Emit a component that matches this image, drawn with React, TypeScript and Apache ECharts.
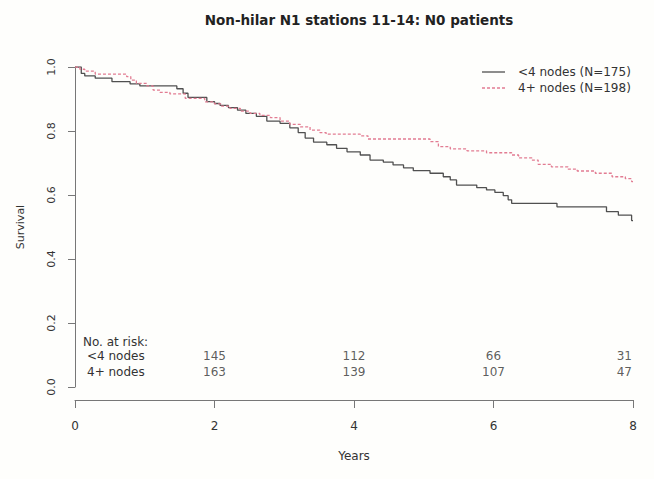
import React, { useEffect, useRef } from "react";
import * as echarts from "echarts";

// Kaplan-Meier step curves (years, survival after the drop)
const lt4Times = [0, 0.09, 0.14, 0.29, 0.53, 0.79, 0.93, 1.46, 1.55, 1.62, 1.89, 2.0, 2.08, 2.2, 2.33, 2.45, 2.6, 2.75, 2.94, 3.08, 3.2, 3.3, 3.42, 3.61, 3.75, 3.9, 4.09, 4.23, 4.42, 4.56, 4.71, 4.85, 5.09, 5.28, 5.38, 5.47, 5.76, 5.9, 6.02, 6.14, 6.21, 6.26, 6.91, 7.62, 7.79, 7.98, 8.0];
const lt4Surv = [1.0, 0.98, 0.972, 0.965, 0.954, 0.947, 0.941, 0.932, 0.918, 0.905, 0.892, 0.886, 0.88, 0.873, 0.865, 0.855, 0.846, 0.831, 0.824, 0.81, 0.795, 0.778, 0.765, 0.757, 0.746, 0.735, 0.725, 0.709, 0.703, 0.694, 0.685, 0.676, 0.668, 0.657, 0.647, 0.631, 0.623, 0.616, 0.608, 0.598, 0.585, 0.574, 0.563, 0.548, 0.537, 0.52, 0.52];

const ge4Times = [0, 0.07, 0.14, 0.29, 0.74, 0.8, 0.88, 1.03, 1.12, 1.22, 1.36, 1.58, 1.86, 2.0, 2.1, 2.22, 2.37, 2.51, 2.65, 2.8, 2.94, 3.08, 3.23, 3.37, 3.51, 3.6, 4.09, 4.2, 5.09, 5.21, 5.38, 5.62, 5.9, 6.26, 6.36, 6.55, 6.64, 6.83, 7.07, 7.2, 7.46, 7.7, 7.89, 7.98, 8.0];
const ge4Surv = [1.0, 0.993, 0.987, 0.978, 0.97, 0.959, 0.949, 0.941, 0.928, 0.921, 0.916, 0.902, 0.891, 0.885, 0.878, 0.871, 0.862, 0.855, 0.849, 0.842, 0.831, 0.821, 0.813, 0.803, 0.795, 0.79, 0.785, 0.775, 0.767, 0.751, 0.744, 0.738, 0.732, 0.725, 0.716, 0.709, 0.696, 0.688, 0.681, 0.675, 0.668, 0.657, 0.651, 0.642, 0.642];

const seriesNames = ["<4 nodes (N=175)", "4+ nodes (N=198)"];

// Numbers at risk
const riskTimes = [2, 4, 6, 8];
const riskLt4 = [145, 112, 66, 31];
const riskGe4 = [163, 139, 107, 47];
const riskRowLabels = ["No. at risk:", "<4 nodes", "4+ nodes"];
const riskRowY = [0.141, 0.097, 0.047];

const FONT = "'DejaVu Sans', 'Liberation Sans', Arial, sans-serif";
const TEXT = "#333333";
const AXIS = "#777777";
const SOLID = "#505050";
const DASHED = "#e27c92";

export default function App() {
  const ref = useRef<HTMLDivElement>(null);

  useEffect(() => {
    if (!ref.current) return;
    const chart = echarts.init(ref.current, null, { renderer: "svg" });

    const riskData = (vals: number[], y: number) =>
      riskTimes.map((t, i) => {
        const item: any = { value: [t, y, vals[i]] };
        if (i === riskTimes.length - 1) {
          item.label = { align: "right", offset: [-1, 0] };
        }
        return item;
      });

    const riskLabel = {
      show: true,
      position: "inside",
      formatter: (p: any) => String(p.value[2]),
      fontFamily: FONT,
      fontSize: 12,
      color: TEXT,
    };

    const option: any = {
      animation: false,
      backgroundColor: "#fefefc",
      title: {
        text: "Non-hilar N1 stations 11-14: N0 patients",
        left: 354,
        top: 8,
        textAlign: "center",
        textStyle: { fontFamily: FONT, fontSize: 13.5, fontWeight: "bold", color: "#222" },
      },
      grid: { left: 75, right: 21, top: 67, bottom: 92, containLabel: false },
      xAxis: {
        type: "value",
        min: 0,
        max: 8,
        interval: 2,
        offset: 13,
        name: "Years",
        nameLocation: "middle",
        nameGap: 50,
        nameTextStyle: { fontFamily: FONT, fontSize: 12, color: TEXT },
        axisLine: { show: true, onZero: false, lineStyle: { color: AXIS, width: 1 } },
        axisTick: { show: true, length: 8, lineStyle: { color: AXIS } },
        axisLabel: { fontFamily: FONT, fontSize: 12, color: TEXT, margin: 20 },
        splitLine: { show: false },
      },
      yAxis: {
        type: "value",
        min: 0,
        max: 1,
        interval: 0.2,
        offset: 1,
        name: "Survival",
        nameLocation: "middle",
        nameGap: 48,
        nameRotate: 90,
        nameTextStyle: { fontFamily: FONT, fontSize: 11, color: TEXT },
        axisLine: { show: true, lineStyle: { color: AXIS, width: 1 } },
        axisTick: { show: true, length: 7, lineStyle: { color: AXIS } },
        axisLabel: {
          fontFamily: FONT,
          fontSize: 11,
          color: TEXT,
          rotate: 90,
          margin: 17,
          formatter: (v: number) => v.toFixed(1),
        },
        splitLine: { show: false },
      },
      series: [
        {
          name: seriesNames[0],
          type: "line",
          step: "end",
          symbol: "none",
          showSymbol: false,
          data: lt4Times.map((t, i) => [t, lt4Surv[i]]),
          lineStyle: { color: SOLID, width: 1.3, type: "solid" },
          itemStyle: { color: SOLID },
        },
        {
          name: seriesNames[1],
          type: "line",
          step: "end",
          symbol: "none",
          showSymbol: false,
          data: ge4Times.map((t, i) => [t, ge4Surv[i]]),
          lineStyle: { color: DASHED, width: 1.3, type: [3, 2] },
          itemStyle: { color: DASHED },
        },
        {
          name: "riskLt4",
          type: "scatter",
          symbol: "circle",
          symbolSize: 1,
          itemStyle: { color: "rgba(0,0,0,0)" },
          silent: true,
          data: riskData(riskLt4, riskRowY[1]),
          label: riskLabel,
        },
        {
          name: "riskGe4",
          type: "scatter",
          symbol: "circle",
          symbolSize: 1,
          itemStyle: { color: "rgba(0,0,0,0)" },
          silent: true,
          data: riskData(riskGe4, riskRowY[2]),
          label: riskLabel,
        },
      ],
    };

    chart.setOption(option);

    // risk table row labels, positioned through the chart's scales
    const pt = (x: number, y: number) => chart.convertToPixel({ gridIndex: 0 }, [x, y]) as number[];
    const rowX = [8, 12, 12];
    const rowEls = riskRowLabels.map((txt, i) => {
      const p = pt(0, riskRowY[i]);
      return {
        type: "text",
        x: p[0] + rowX[i],
        y: p[1],
        silent: true,
        style: {
          text: txt,
          fontFamily: FONT,
          fontSize: 12,
          fill: TEXT,
          align: "left",
          verticalAlign: "middle",
        },
      };
    });

    // legend (top right)
    const legendEls: any[] = [];
    const legendStyles = [
      { stroke: SOLID, lineWidth: 1.3 },
      { stroke: DASHED, lineWidth: 1.3, lineDash: [3, 2] },
    ];
    seriesNames.forEach((name, i) => {
      const y = 72 + i * 16;
      legendEls.push({
        type: "line",
        silent: true,
        shape: { x1: 482, y1: y, x2: 505, y2: y },
        style: legendStyles[i],
      });
      legendEls.push({
        type: "text",
        silent: true,
        x: 518,
        y,
        style: {
          text: name,
          fontFamily: FONT,
          fontSize: 12,
          fill: TEXT,
          align: "left",
          verticalAlign: "middle",
        },
      });
    });

    chart.setOption({ graphic: [...rowEls, ...legendEls] });

    return () => chart.dispose();
  }, []);

  return (
    <div
      ref={ref}
      style={{ position: "fixed", left: 0, top: 0, width: 654, height: 479 }}
    />
  );
}
